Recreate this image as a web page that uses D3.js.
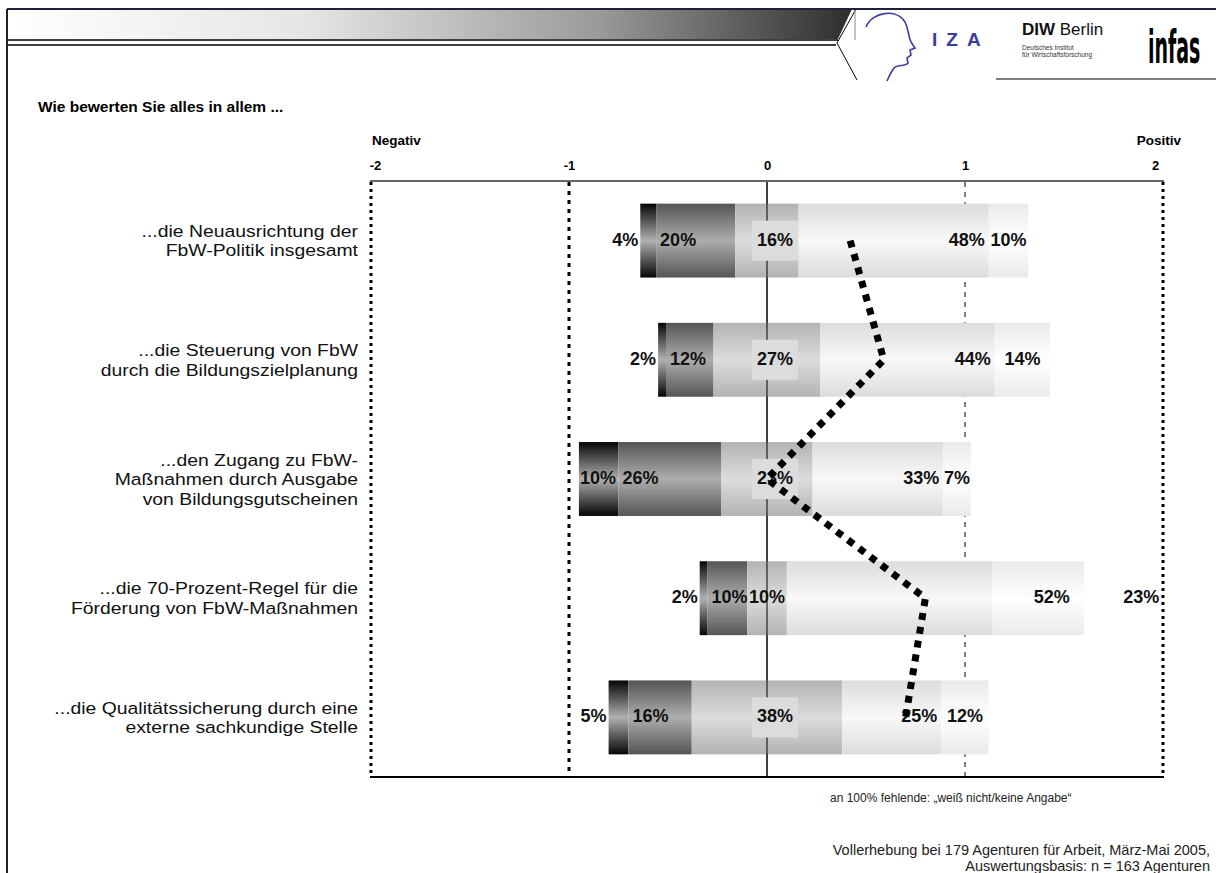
<!DOCTYPE html>
<html>
<head>
<meta charset="utf-8">
<script src="https://cdn.jsdelivr.net/npm/d3@7"></script>
<style>
  body { margin: 0; background: #fff; }
  svg { display: block; font-family: "Liberation Sans", Arial, sans-serif; }
</style>
</head>
<body>
<svg id="chart"></svg>
<script>
// categories (line breaks marked with |)
const categories = [
  "...die Neuausrichtung der|FbW-Politik insgesamt",
  "...die Steuerung von FbW|durch die Bildungszielplanung",
  "...den Zugang zu FbW-|Maßnahmen durch Ausgabe|von Bildungsgutscheinen",
  "...die 70-Prozent-Regel für die|Förderung von FbW-Maßnahmen",
  "...die Qualitätssicherung durch eine|externe sachkundige Stelle"
];
// shares in percent, from very negative to very positive
const veryNeg = [4, 2, 10, 2, 5];
const neg     = [20, 12, 26, 10, 16];
const neutral = [16, 27, 23, 10, 38];
const pos     = [48, 44, 33, 52, 25];
const veryPos = [10, 14, 7, 23, 12];
// mean rating per item (dotted line)
const means = [0.42, 0.59, 0.0, 0.80, 0.70];
const tickValues = [-2, -1, 0, 1, 2];

const W = 1216, H = 873;
const svg = d3.select("#chart").attr("width", W).attr("height", H);

// ---- header decoration ----
const defs = svg.append("defs");
const hg = defs.append("linearGradient").attr("id", "hdr");
hg.append("stop").attr("offset", "0%").attr("stop-color", "#ffffff");
hg.append("stop").attr("offset", "35%").attr("stop-color", "#e6e6e6");
hg.append("stop").attr("offset", "70%").attr("stop-color", "#9a9a9a");
hg.append("stop").attr("offset", "100%").attr("stop-color", "#2e2e2e");

svg.append("path").attr("d", "M7,9 L852,9 L838,39 L7,39 Z").attr("fill", "url(#hdr)");
svg.append("line").attr("x1", 7).attr("x2", W).attr("y1", 9).attr("y2", 9)
  .attr("stroke", "#1e2238").attr("stroke-width", 2);
svg.append("line").attr("x1", 7).attr("x2", 838).attr("y1", 40).attr("y2", 40)
  .attr("stroke", "#000").attr("stroke-width", 1.5);
svg.append("line").attr("x1", 7).attr("x2", 836).attr("y1", 45).attr("y2", 45)
  .attr("stroke", "#000").attr("stroke-width", 1.5);
svg.append("path").attr("d", "M856,9 L837,43 L857,80").attr("fill", "none")
  .attr("stroke", "#000").attr("stroke-width", 1);
svg.append("line").attr("x1", 855).attr("x2", 855).attr("y1", 10).attr("y2", 40)
  .attr("stroke", "#888").attr("stroke-width", 1);
svg.append("line").attr("x1", 7).attr("x2", 7).attr("y1", 9).attr("y2", H)
  .attr("stroke", "#222").attr("stroke-width", 2);

// IZA head profile
svg.append("path")
  .attr("d", "M866,27 C872,12 896,8 905,22 C909,30 908,36 911,42 L915,48 L910,50 L911,55 L907,58 L908,63 C905,67 898,64 894,68 C891,72 889,76 887,81")
  .attr("fill", "none").attr("stroke", "#3c3c9c").attr("stroke-width", 1.6);
svg.append("text").attr("x", 932).attr("y", 46).attr("fill", "#3c3c9c")
  .attr("font-size", 19).attr("font-weight", "bold").attr("letter-spacing", 9).text("IZA");
const diw = svg.append("text").attr("x", 1022).attr("y", 35).attr("font-size", 17).attr("fill", "#111");
diw.append("tspan").attr("font-weight", "bold").text("DIW");
diw.append("tspan").text(" Berlin");
svg.append("text").attr("x", 1022).attr("y", 50).attr("font-size", 6.5).attr("fill", "#333").text("Deutsches Institut");
svg.append("text").attr("x", 1022).attr("y", 57).attr("font-size", 6.5).attr("fill", "#333").text("für Wirtschaftsforschung");
svg.append("text")
  .attr("transform", "translate(1148,63) scale(0.66,1.45)")
  .attr("font-size", 32).attr("font-weight", "bold")
  .attr("font-family", "'DejaVu Sans Condensed', 'Liberation Sans Narrow', sans-serif")
  .attr("fill", "#000").text("infas");
svg.append("line").attr("x1", 996).attr("x2", W).attr("y1", 79).attr("y2", 79)
  .attr("stroke", "#000").attr("stroke-width", 1);

// title
svg.append("text").attr("x", 38).attr("y", 112).attr("font-size", 15.5).attr("font-weight", "bold")
  .text("Wie bewerten Sie alles in allem ...");

// ---- scales ----
const x = d3.scaleLinear().domain([-2, 2]).range([371, 1163]);
const y = d3.scaleBand().domain(d3.range(categories.length)).range([181, 777])
  .paddingInner(0.38).paddingOuter(0.19);
const pctUnit = 0.02; // 100% spans two scale units

// segment gradients (cylinder look)
const segStyles = [
  ["#050505", "#b0b0b0"],
  ["#555555", "#adadad"],
  ["#b3b3b3", "#dcdcdc"],
  ["#dcdcdc", "#f8f8f8"],
  ["#eaeaea", "#ffffff"]
];
segStyles.forEach((c, i) => {
  const g = defs.append("linearGradient").attr("id", "seg" + i)
    .attr("x1", 0).attr("x2", 0).attr("y1", 0).attr("y2", 1);
  g.append("stop").attr("offset", "0%").attr("stop-color", c[0]);
  g.append("stop").attr("offset", "50%").attr("stop-color", c[1]);
  g.append("stop").attr("offset", "100%").attr("stop-color", c[0]);
});

// ---- axis labels ----
const axis = d3.axisTop(x).tickValues(tickValues).tickSize(0).tickPadding(0)
  .tickFormat(d => String(d));
const ax = svg.append("g").attr("transform", "translate(0,170)").call(axis);
ax.select(".domain").remove();
ax.selectAll("text").attr("font-size", 13).attr("font-weight", "bold").attr("fill", "#000")
  .attr("font-family", "'Liberation Sans', Arial, sans-serif")
  .attr("dx", d => d === 2 ? -8 : (d === -2 ? 4 : 0));
svg.append("text").attr("x", x(-2) + 1).attr("y", 145)
  .attr("font-size", 13.5).attr("font-weight", "bold").text("Negativ");
svg.append("text").attr("x", x(2) + 18).attr("y", 145).attr("text-anchor", "end")
  .attr("font-size", 13.5).attr("font-weight", "bold").text("Positiv");

// ---- grid lines ----
const grid = svg.append("g");
const gridStyle = { "-2": [3, "3 4"], "-1": [3, "4 5"], "0": [1, null], "1": [1, "5 5"], "2": [3, "3 4"] };
tickValues.forEach(v => {
  const s = gridStyle[v];
  grid.append("line").attr("x1", x(v)).attr("x2", x(v)).attr("y1", 182).attr("y2", 776)
    .attr("stroke", "#000").attr("stroke-width", s[0])
    .attr("stroke-dasharray", s[1]);
});
svg.append("line").attr("x1", x(-2) - 1).attr("x2", x(2) + 1).attr("y1", 181).attr("y2", 181)
  .attr("stroke", "#666").attr("stroke-width", 2);
svg.append("line").attr("x1", x(-2) - 1).attr("x2", x(2) + 1).attr("y1", 777).attr("y2", 777)
  .attr("stroke", "#000").attr("stroke-width", 2);

// ---- category labels (slightly widened like the original slide font) ----
categories.forEach((c, i) => {
  const lines = c.split("|");
  const cy = y(i) + y.bandwidth() / 2;
  lines.forEach((ln, j) => {
    svg.append("text").attr("text-anchor", "end").attr("font-size", 17).attr("fill", "#111")
      .attr("transform", "translate(358," + (cy + (j - (lines.length - 1) / 2) * 19.5 + 6) + ") scale(1.14,1)")
      .text(ln);
  });
});

// ---- bars ----
const rows = categories.map((c, i) => {
  const parts = [veryNeg[i], neg[i], neutral[i], pos[i], veryPos[i]];
  let start = -neutral[i] / 2 - neg[i] - veryNeg[i];
  return parts.map((p, k) => {
    const seg = { row: i, k: k, p: p, x0: start, x1: start + p };
    start += p;
    return seg;
  });
});
const segs = rows.flat();
const bars = svg.append("g");
bars.selectAll("rect").data(segs).enter().append("rect")
  .attr("x", d => x(d.x0 * pctUnit))
  .attr("width", d => x(d.x1 * pctUnit) - x(d.x0 * pctUnit))
  .attr("y", d => y(d.row))
  .attr("height", y.bandwidth())
  .attr("fill", d => "url(#seg" + d.k + ")");

// redraw zero line over bars
svg.append("line").attr("x1", x(0)).attr("x2", x(0)).attr("y1", 182).attr("y2", 776)
  .attr("stroke", "#000").attr("stroke-width", 1);

// ---- value labels ----
const nudge = { "3-3": 81, "3-4": 103 };
const lab = svg.append("g").attr("font-size", 18).attr("font-weight", "bold").attr("fill", "#111");
segs.forEach(d => {
  const cy = y(d.row) + y.bandwidth() / 2;
  const ty = cy + 5;
  const a = x(d.x0 * pctUnit), b = x(d.x1 * pctUnit);
  let tx, anchor;
  if (d.k === 0) {
    if (d.p < 8) { tx = a - 2; anchor = "end"; } else { tx = a + 1; anchor = "start"; }
  } else if (d.k === 1) {
    tx = a + 4; anchor = "start";
  } else if (d.k === 2) {
    if (d.p >= 15) {
      tx = x(0) + 8; anchor = "middle";
      lab.append("rect").attr("x", tx - 23).attr("y", cy - 20).attr("width", 46).attr("height", 40)
        .attr("fill", "#dcdcdc");
    } else { tx = (a + b) / 2; anchor = "middle"; }
  } else if (d.k === 3) {
    tx = b - 4; anchor = "end";
  } else {
    tx = (a + b) / 2; anchor = "middle";
  }
  tx += nudge[d.row + "-" + d.k] || 0;
  lab.append("text").attr("x", tx).attr("y", ty).attr("text-anchor", anchor).text(d.p + "%");
});

// ---- mean line ----
svg.append("path")
  .datum(means)
  .attr("d", d3.line().x(d => x(d)).y((d, i) => y(i) + y.bandwidth() / 2))
  .attr("fill", "none").attr("stroke", "#000").attr("stroke-width", 7)
  .attr("stroke-dasharray", "7 7");

// ---- footnotes ----
svg.append("text").attr("x", 830).attr("y", 802).attr("font-size", 12).attr("fill", "#222")
  .text("an 100% fehlende: „weiß nicht/keine Angabe“");
svg.append("text").attr("x", 1210).attr("y", 855).attr("text-anchor", "end").attr("font-size", 14.5)
  .attr("fill", "#222").text("Vollerhebung bei 179 Agenturen für Arbeit, März-Mai 2005,");
svg.append("text").attr("x", 1210).attr("y", 871).attr("text-anchor", "end").attr("font-size", 14.5)
  .attr("fill", "#222").text("Auswertungsbasis: n = 163 Agenturen");
</script>
</body>
</html>
